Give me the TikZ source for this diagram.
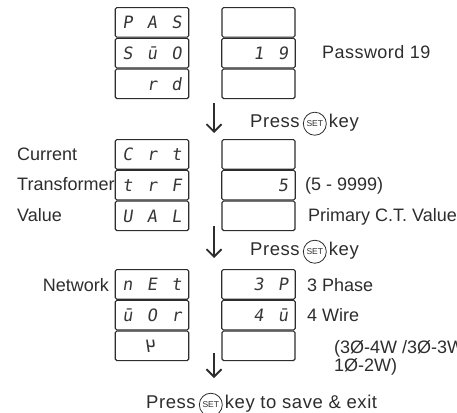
\documentclass[tikz,border=0pt]{standalone}
\usepackage{fontspec}
\usepackage{graphicx}
\setmainfont{Liberation Sans}
\newfontfamily\lcdfont{DejaVu Sans Mono}[FakeSlant=0.15]
\usetikzlibrary{arrows.meta,positioning}
\definecolor{inkgray}{RGB}{45,45,45}
\definecolor{lcdgray}{RGB}{55,55,55}
\newcommand{\lcdrow}[3]{\makebox[24.5pt]{#1}\makebox[24.5pt]{#2}\makebox[24.5pt]{#3}}

\begin{document}
\begin{tikzpicture}[
  x=1pt,y=-1pt,font=\fontsize{18}{21}\selectfont,
  cell/.style={draw=inkgray,line width=1.1pt,rounded corners=1.6pt,minimum width=73pt,
               minimum height=29.6pt,inner sep=0pt,text height=12.4pt,text depth=0pt,
               font=\lcdfont\fontsize{17}{17}\selectfont,text=lcdgray},
  lbl/.style={anchor=base west,inner sep=0pt,text=inkgray},
  rlbl/.style={lbl,anchor=base east},
  wide/.style={font=\fontsize{18.5}{21}\selectfont\addfontfeature{LetterSpace=3}},
  setkey/.style={circle,draw=inkgray,line width=0.8pt,minimum size=23pt,inner sep=0pt,
                 font=\fontsize{8.5}{8.5}\selectfont,text=inkgray},
  flow/.style={draw=inkgray,line width=1.2pt,-{Straight Barb[length=7.5pt,width=15pt,line width=1.8pt]}}
]
\useasboundingbox (0,0) rectangle (457,412);
% ---------- password screen
\node[cell] (pas1) at (152,22.4) {\lcdrow{P}{A}{S}};
\node[cell,below=0pt of pas1] (pas2) {\lcdrow{S}{ū}{O}};
\node[cell,below=0pt of pas2] (pas3) {\lcdrow{}{r}{d}};
\node[cell] (pwd1) at (258.5,22.4) {};
\node[cell,below=0pt of pwd1] (pwd2) {\lcdrow{}{1}{9}};
\node[cell,below=0pt of pwd2] (pwd3) {};
\node[lbl,font=\fontsize{18}{21}\selectfont\addfontfeature{LetterSpace=2.5}] (pwdtxt) at (322,59) {Password 19};
% ---------- first key press
\coordinate (a1s) at (214,103);
\coordinate (a1e) at (214,133);
\draw[flow] (a1s) -- (a1e);
\node[lbl,wide] (press1) at (250,127) {Press};
\node[setkey,right=3pt of press1,yshift=-3pt] (set1) {SET};
\node[lbl,wide,xshift=2pt] (key1) at (set1.east |- press1.base) {key};
% ---------- current transformer screen
\node[cell] (crt1) at (152,154.4) {\lcdrow{C}{r}{t}};
\node[cell,below=0pt of crt1] (crt2) {\lcdrow{t}{r}{F}};
\node[cell,below=0pt of crt2] (crt3) {\lcdrow{U}{A}{L}};
\node[cell] (ctv1) at (258.5,154.4) {};
\node[cell,below=0pt of ctv1] (ctv2) {\lcdrow{}{}{5}};
\node[cell,below=0pt of ctv2] (ctv3) {};
\node[lbl] (curtxt) at (17,160) {Current};
\node[lbl] (trftxt) at (17,190.5) {Transformer};
\node[lbl] (valtxt) at (17,221.5) {Value};
\node[lbl] (rngtxt) at (305,190.5) {(5 - 9999)};
\node[lbl] (pritxt) at (308,221.5) {Primary C.T. Value};
% ---------- second key press
\coordinate (a2s) at (214,226);
\coordinate (a2e) at (214,258);
\draw[flow] (a2s) -- (a2e);
\node[lbl,wide] (press2) at (250,255) {Press};
\node[setkey,right=3pt of press2,yshift=-3pt] (set2) {SET};
\node[lbl,wide,xshift=2pt] (key2) at (set2.east |- press2.base) {key};
% ---------- network screen
\node[cell] (net1) at (152,284.4) {\lcdrow{n}{E}{t}};
\node[cell,below=0pt of net1] (net2) {\lcdrow{ū}{O}{r}};
\node[cell,below=0pt of net2] (net3) {\lcdrow{}{\reflectbox{Ч}}{}};
\node[cell] (nwv1) at (258.5,284.4) {\lcdrow{}{3}{P}};
\node[cell,below=0pt of nwv1] (nwv2) {\lcdrow{}{4}{ū}};
\node[cell,below=0pt of nwv2] (nwv3) {};
\node[rlbl] (nettxt) at (109,291.5) {Network};
\node[lbl] (phtxt) at (307,291.5) {3 Phase};
\node[lbl] (wrtxt) at (307,321.5) {4 Wire};
\node[lbl] (opt1) at (334,353) {(3Ø-4W /3Ø-3W};
\node[lbl] (opt2) at (334,371) {1Ø-2W)};
% ---------- save and exit
\coordinate (a3s) at (214,353);
\coordinate (a3e) at (214,378);
\draw[flow] (a3s) -- (a3e);
\node[lbl,wide] (press3) at (146,408) {Press};
\node[setkey,right=3pt of press3,yshift=-3pt] (set3) {SET};
\node[lbl,wide,xshift=2pt] (key3) at (set3.east |- press3.base) {key to save \& exit};
\end{tikzpicture}
\end{document}
